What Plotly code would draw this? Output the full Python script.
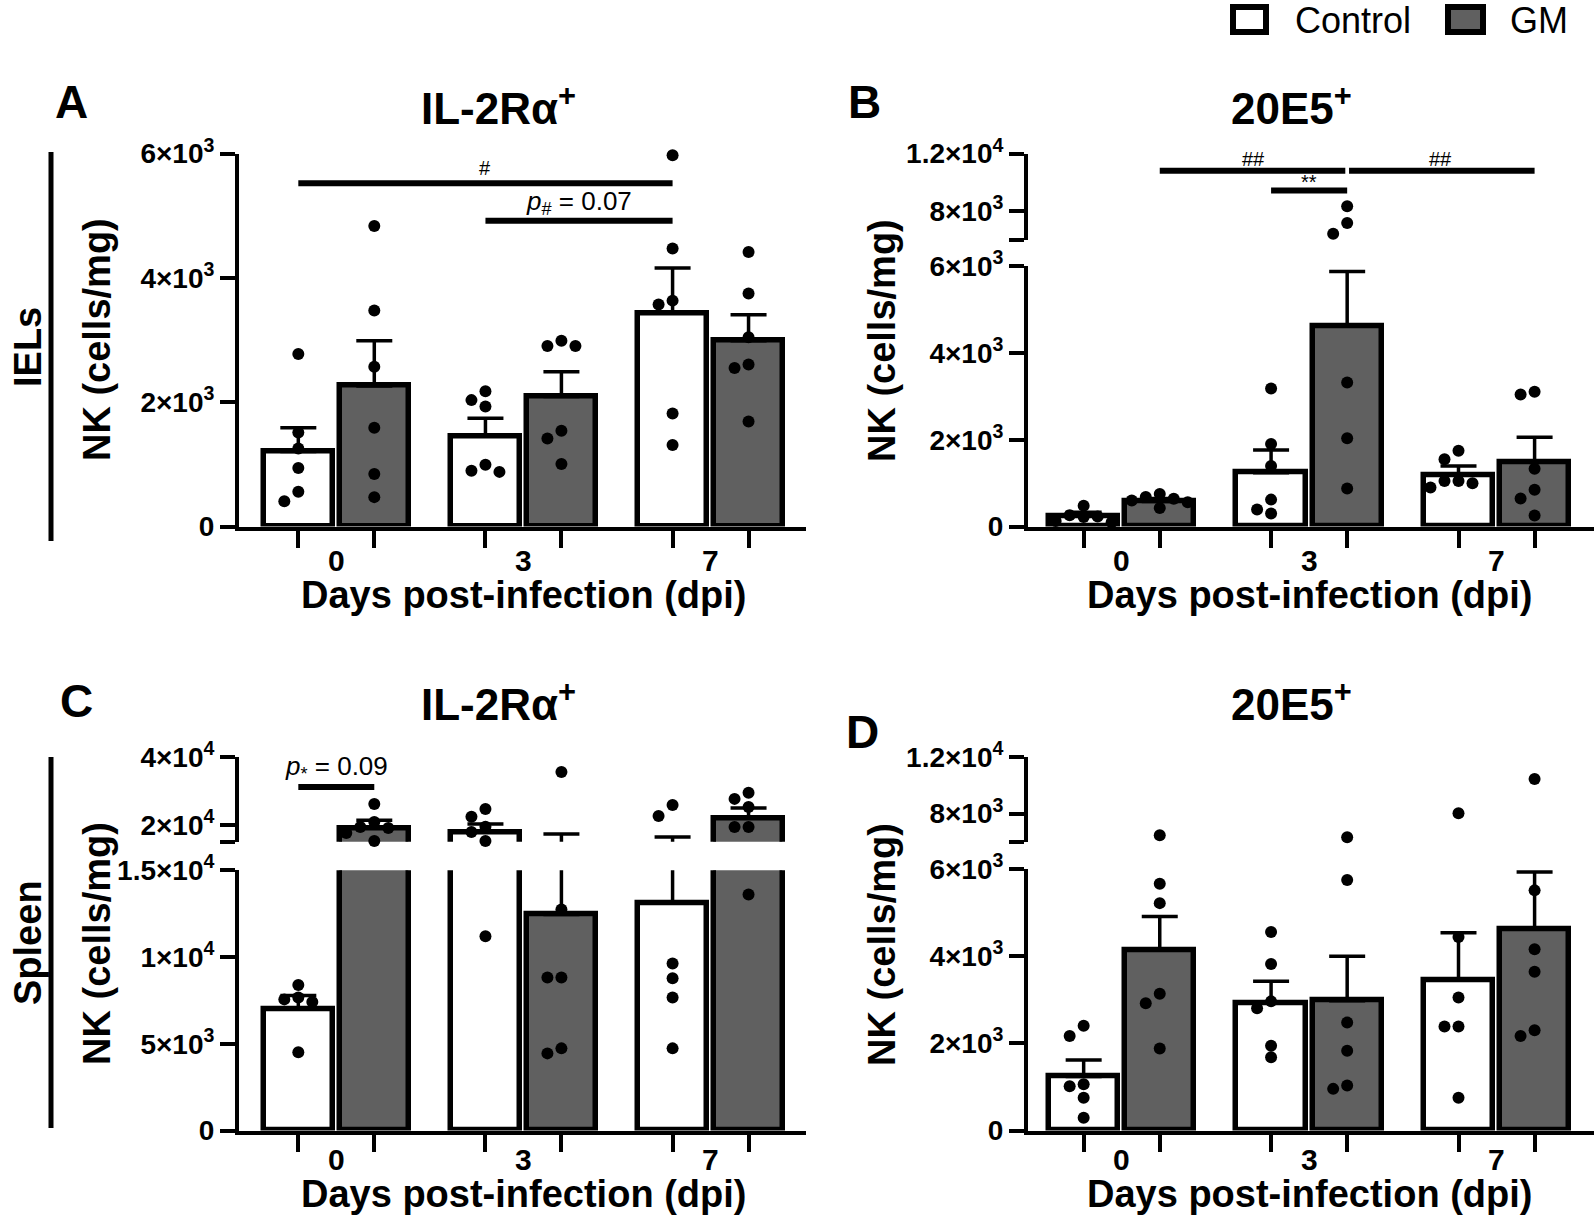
import math
import plotly.graph_objects as go

W, H = 1594, 1221
FONT = "Liberation Sans"

day_labels = ["0", "3", "7"]

# ---------------- Panel A : IELs, IL-2Ra+ ----------------
a_ctrl_mean = [1206, 1457, 3429]
a_ctrl_sem = [383, 286, 731]
a_gm_mean = [2263, 2091, 2989]
a_gm_sem = [726, 400, 417]
a_ctrl_pts = [[2777, 1514, 1257, 943, 560, 406],
              [2177, 2034, 1931, 994, 897, 880],
              [5971, 4474, 3634, 3571, 1817, 1314]]
a_gm_pts = [[4834, 3474, 2571, 1589, 846, 474],
            [2989, 2903, 2903, 1543, 1417, 1006],
            [4417, 3749, 3046, 2606, 2549, 1691]]

# ---------------- Panel B : IELs, 20E5+ ----------------
b_ctrl_mean = [238, 1244, 1189]
b_ctrl_sem = [92, 521, 210]
b_gm_mean = [576, 4627, 1490]
b_gm_sem = [73, 1253, 568]
b_ctrl_pts = [[480, 260, 230, 220, 130, 100],
              [3182, 1902, 1399, 622, 393, 302],
              [1750, 1550, 1050, 1050, 1000, 900]]
b_gm_pts = [[750, 680, 640, 600, 430, 560],
            [8330, 7180, 6430, 3319, 2039, 878],
            [3109, 3045, 1335, 850, 649, 256]]

# ---------------- Panel C : Spleen, IL-2Ra+ ----------------
c_ctrl_mean = [7000, 17900, 13089]
c_ctrl_sem = [778, 2350, 3331]
c_gm_mean = [19063, 12444, 22050]
c_gm_sem = [2298, 4836, 2950]
c_ctrl_pts = [[8378, 7667, 7556, 7400, 4511],
              [24700, 22400, 19400, 17900, 15200, 11200],
              [25900, 22650, 9622, 8778, 7667, 4733]]
c_gm_pts = [[26180, 20840, 19360, 19060, 17580, 15200],
            [35670, 12733, 8822, 8822, 4733, 4444],
            [29500, 27700, 25300, 19360, 19360, 13600]]

# ---------------- Panel D : Spleen, 20E5+ ----------------
d_ctrl_mean = [1239, 2920, 3451]
d_ctrl_sem = [381, 505, 1089]
d_gm_mean = [4142, 2982, 4629]
d_gm_sem = [770, 1018, 1307]
d_ctrl_pts = [[2407, 2168, 1062, 1018, 752, 292],
              [4558, 3823, 2965, 2805, 1947, 1681],
              [8021, 4443, 3053, 2390, 2390, 752]]
d_gm_pts = [[6452, 5664, 5221, 3142, 2920, 1885],
            [6323, 5752, 2478, 1832, 1035, 956],
            [10463, 5514, 4160, 3646, 2301, 2168]]

# ---------------- tick labels ----------------
ticks_a = ([0, 2000, 4000, 6000], ["0", "2×10<sup>3</sup>", "4×10<sup>3</sup>", "6×10<sup>3</sup>"])
ticks_b_lo = ([0, 2000, 4000, 6000], ["0", "2×10<sup>3</sup>", "4×10<sup>3</sup>", "6×10<sup>3</sup>"])
ticks_b_hi = ([6000, 8000, 12000], ["", "8×10<sup>3</sup>", "1.2×10<sup>4</sup>"])
ticks_c_lo = ([0, 5000, 10000, 15000], ["0", "5×10<sup>3</sup>", "1×10<sup>4</sup>", "1.5×10<sup>4</sup>"])
ticks_c_hi = ([15000, 20000, 40000], ["", "2×10<sup>4</sup>", "4×10<sup>4</sup>"])

# ---------------- layout constants ----------------
OFFSET = 0.203
BAR_W = 0.37
XR_L = [-0.52, 2.51]
XR_R = [-0.5, 2.52]
XD_L = [239 / W, 806 / W]
XD_R = [1028 / W, 1.0]


def py(p):
    return 1 - p / H


def px(p):
    return p / W


DOM_A = [py(526.6), py(153.5)]
DOM_B_LO = [py(526.6), py(266.3)]
DOM_B_HI = [py(239.9), py(153.5)]
DOM_C_LO = [py(1130.5), py(870.2)]
DOM_C_HI = [py(841.7), py(757.4)]
DOM_D_LO = [py(1130.5), py(869.2)]
DOM_D_HI = [py(841.7), py(757.4)]

fig = go.Figure()
layout = dict(width=W, height=H, autosize=False,
              margin=dict(l=0, r=0, t=0, b=0, pad=0, autoexpand=False),
              paper_bgcolor="white", plot_bgcolor="rgba(0,0,0,0)",
              showlegend=False, bargap=0)

axis_font = dict(family=FONT, size=28, color="black", weight="bold")


def yaxis_cfg(dom, rng, ticks, anchor):
    return dict(domain=dom, range=rng, anchor=anchor, showline=True, linewidth=4,
                linecolor="black", ticks="outside", ticklen=15, tickwidth=3.5,
                tickcolor="black", showgrid=False, zeroline=False, automargin=False,
                tickmode="array", tickvals=ticks[0], ticktext=ticks[1],
                tickfont=axis_font, fixedrange=True)


def xaxis_cfg(dom, rng, anchor):
    tv = []
    for i in range(3):
        tv += [i - OFFSET, i + OFFSET]
    return dict(domain=dom, range=rng, anchor=anchor, showline=True, linewidth=4,
                linecolor="black", ticks="outside", ticklen=17, tickwidth=3.5,
                tickcolor="black", showgrid=False, zeroline=False, automargin=False,
                tickmode="array", tickvals=tv, ticktext=[""] * len(tv),
                fixedrange=True)


def beeswarm(vals, segs, xdom, xr):
    """Return x offsets (data units) so that dots do not overlap too much."""
    ppu = (xdom[1] - xdom[0]) * W / (xr[1] - xr[0])

    def ypix(v):
        for _, rng, dom in segs:
            if rng[0] <= v <= rng[1]:
                f = (v - rng[0]) / (rng[1] - rng[0])
                return H * (1 - (dom[0] + f * (dom[1] - dom[0])))
        return H * (1 - segs[-1][2][1])

    placed = []
    offs = [0.0] * len(vals)
    order = sorted(range(len(vals)), key=lambda i: -vals[i])
    step, diam = 14.0, 11.0
    for i in order:
        yp = ypix(vals[i])
        for k in [0, -1, 1, -2, 2, -3, 3]:
            dx = k * step
            if all(math.hypot(dx - qx, yp - qy) >= diam for qx, qy in placed):
                break
        placed.append((dx, yp))
        offs[i] = dx / ppu
    return offs


def add_panel(xname, xdom, xr, segs, ctrl_mean, ctrl_sem, gm_mean, gm_sem, ctrl_pts, gm_pts):
    series = [(-OFFSET, ctrl_mean, ctrl_sem, ctrl_pts, "white"),
              (OFFSET, gm_mean, gm_sem, gm_pts, "#606060")]
    for yname, rng, dom in segs:
        for off, mean, sem, pts, col in series:
            err = [s if (m + s > rng[0] and m < rng[1]) else None for m, s in zip(mean, sem)]
            fig.add_trace(go.Bar(
                x=[i + off for i in range(3)], y=mean, width=BAR_W,
                marker=dict(color=col, line=dict(color="black", width=5.5)),
                error_y=dict(type="data", symmetric=False, array=err,
                             arrayminus=[0] * 3, color="black", thickness=3.5, width=18),
                xaxis=xname, yaxis=yname, hoverinfo="skip"))
    for off, mean, sem, pts, col in series:
        xs_all = {s[0]: [] for s in segs}
        ys_all = {s[0]: [] for s in segs}
        for g, vals in enumerate(pts):
            offs = beeswarm(vals, segs, xdom, xr)
            for v, o in zip(vals, offs):
                for yname, rng, dom in segs:
                    if rng[0] <= v <= rng[1]:
                        xs_all[yname].append(g + off + o)
                        ys_all[yname].append(v)
                        break
        for yname, rng, dom in segs:
            fig.add_trace(go.Scatter(
                x=xs_all[yname], y=ys_all[yname], mode="markers",
                marker=dict(size=12, color="black"), cliponaxis=False,
                xaxis=xname, yaxis=yname, hoverinfo="skip"))


segs_a = [("y", [0, 6000], DOM_A)]
add_panel("x", XD_L, XR_L, segs_a, a_ctrl_mean, a_ctrl_sem, a_gm_mean, a_gm_sem, a_ctrl_pts, a_gm_pts)
layout["xaxis"] = xaxis_cfg(XD_L, XR_L, "y")
layout["yaxis"] = yaxis_cfg(DOM_A, [0, 6000], ticks_a, "x")

segs_b = [("y2", [0, 6000], DOM_B_LO), ("y3", [6000, 12000], DOM_B_HI)]
add_panel("x2", XD_R, XR_R, segs_b, b_ctrl_mean, b_ctrl_sem, b_gm_mean, b_gm_sem, b_ctrl_pts, b_gm_pts)
layout["xaxis2"] = xaxis_cfg(XD_R, XR_R, "y2")
layout["yaxis2"] = yaxis_cfg(DOM_B_LO, [0, 6000], ticks_b_lo, "x2")
layout["yaxis3"] = yaxis_cfg(DOM_B_HI, [6000, 12000], ticks_b_hi, "x2")

segs_c = [("y4", [0, 15000], DOM_C_LO), ("y5", [15000, 40000], DOM_C_HI)]
add_panel("x3", XD_L, XR_L, segs_c, c_ctrl_mean, c_ctrl_sem, c_gm_mean, c_gm_sem, c_ctrl_pts, c_gm_pts)
layout["xaxis3"] = xaxis_cfg(XD_L, XR_L, "y4")
layout["yaxis4"] = yaxis_cfg(DOM_C_LO, [0, 15000], ticks_c_lo, "x3")
layout["yaxis5"] = yaxis_cfg(DOM_C_HI, [15000, 40000], ticks_c_hi, "x3")

segs_d = [("y6", [0, 6000], DOM_D_LO), ("y7", [6000, 12000], DOM_D_HI)]
add_panel("x4", XD_R, XR_R, segs_d, d_ctrl_mean, d_ctrl_sem, d_gm_mean, d_gm_sem, d_ctrl_pts, d_gm_pts)
layout["xaxis4"] = xaxis_cfg(XD_R, XR_R, "y6")
layout["yaxis6"] = yaxis_cfg(DOM_D_LO, [0, 6000], ticks_b_lo, "x4")
layout["yaxis7"] = yaxis_cfg(DOM_D_HI, [6000, 12000], ticks_b_hi, "x4")

annotations = []
shapes = []


def txt(text, x, y, size, bold=True, xref="paper", yref="paper", angle=0, xanchor="center",
        yanchor="middle"):
    annotations.append(dict(text=text, x=x, y=y, xref=xref, yref=yref, showarrow=False,
                            textangle=angle, xanchor=xanchor, yanchor=yanchor,
                            font=dict(family=FONT, size=size, color="black",
                                      weight="bold" if bold else "normal")))


for xname, ylab, ytitle in [("x", 560, 595), ("x2", 560, 595), ("x3", 1159, 1194), ("x4", 1159, 1194)]:
    for g, lab in enumerate(day_labels):
        txt(lab, g, py(ylab), 30, xref=xname)
    txt("Days post-infection (dpi)", 1, py(ytitle), 38, xref=xname)

for xp, dom_lo, dom_hi in [(97, DOM_A, DOM_A), (882, DOM_B_LO, DOM_B_HI),
                           (97, DOM_C_LO, DOM_C_HI), (882, DOM_D_LO, DOM_D_HI)]:
    txt("NK (cells/mg)", px(xp), (dom_lo[0] + dom_hi[1]) / 2, 38, angle=-90)

for lab, xp, yp in [("A", 71, 102), ("B", 864, 102), ("C", 76, 701), ("D", 862, 732)]:
    txt(lab, px(xp), py(yp), 46)

for lab, xp, yp in [("IL-2Rα<sup>+</sup>", 498, 106), ("20E5<sup>+</sup>", 1291, 106),
                    ("IL-2Rα<sup>+</sup>", 498, 701), ("20E5<sup>+</sup>", 1291, 701)]:
    txt(lab, px(xp), py(yp), 44)

txt("IELs", px(28), py(347), 38, angle=-90)
txt("Spleen", px(28), py(943), 38, angle=-90)
shapes.append(dict(type="line", xref="paper", yref="paper", x0=px(51), x1=px(51),
                   y0=py(152), y1=py(541), line=dict(color="black", width=5)))
shapes.append(dict(type="line", xref="paper", yref="paper", x0=px(51), x1=px(51),
                   y0=py(757), y1=py(1128), line=dict(color="black", width=5)))

# legend (drawn by hand, GraphPad style)
for x0, x1, col, lab, tx in [(1233, 1266, "white", "Control", 1293), (1448, 1483, "#606060", "GM", 1508)]:
    shapes.append(dict(type="rect", xref="paper", yref="paper", x0=px(x0), x1=px(x1),
                       y0=py(32), y1=py(7), fillcolor=col, line=dict(color="black", width=6)))
    txt(lab, px(tx), py(20), 36, bold=False, xanchor="left")


def bracket(xref, yref, xa, xb, yv):
    shapes.append(dict(type="line", xref=xref, yref=yref, x0=xa, x1=xb, y0=yv, y1=yv,
                       line=dict(color="black", width=6)))


bracket("x", "y", 0 - OFFSET, 2 - OFFSET, 5520)
txt("#", 1 - OFFSET, 5760, 20, bold=False, xref="x", yref="y")
bracket("x", "y", 1 - OFFSET, 2 - OFFSET, 4920)
txt("<i>p</i><sub>#</sub> = 0.07", 1.5 - OFFSET, 5220, 26, bold=False, xref="x", yref="y")

bracket("x2", "y3", 0 + OFFSET, 1 + OFFSET - 0.01, 10800)
bracket("x2", "y3", 1 + OFFSET + 0.01, 2 + OFFSET, 10800)
txt("##", 0.5 + OFFSET, 11650, 20, bold=False, xref="x2", yref="y3")
txt("##", 1.5 + OFFSET, 11650, 20, bold=False, xref="x2", yref="y3")
bracket("x2", "y3", 1 - OFFSET, 1 + OFFSET, 9430)
txt("**", 1, 10000, 20, bold=False, xref="x2", yref="y3")

bracket("x3", "y5", 0 - OFFSET, 0 + OFFSET, 31200)
txt("<i>p</i><sub>*</sub> = 0.09", 0, 36900, 26, bold=False, xref="x3", yref="y5")

layout["annotations"] = annotations
layout["shapes"] = shapes
fig.update_layout(**layout)

fig.write_html(
    "out.html",
    config={"displayModeBar": False, "responsive": False},
    post_script=("document.documentElement.style.margin='0';"
                 "document.body.style.margin='0';"
                 "document.documentElement.style.overflow='hidden';"
                 "document.body.style.overflow='hidden';"),
)
